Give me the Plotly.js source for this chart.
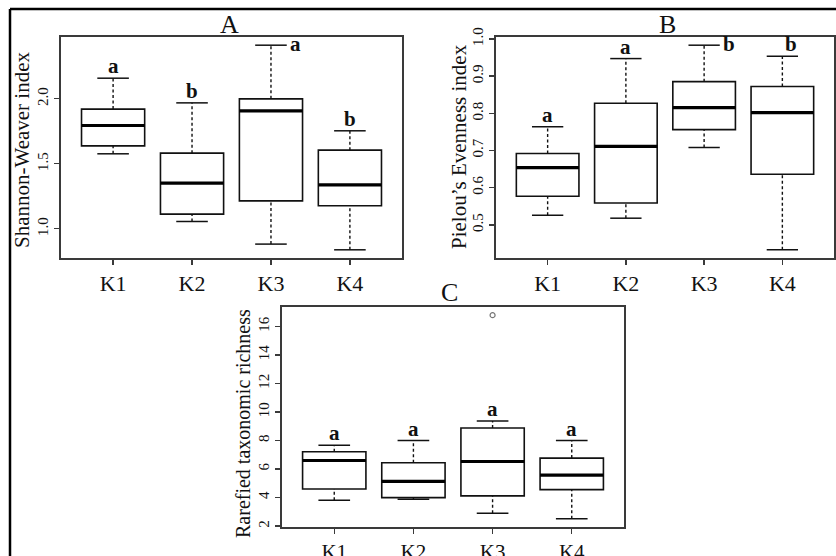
<!DOCTYPE html>
<html>
<head>
<meta charset="utf-8">
<script src="https://cdn.plot.ly/plotly-3.0.1.min.js"></script>
<style>
  html, body { margin: 0; padding: 0; background: #fff; }
  #chart { width: 836px; height: 556px; }
</style>
</head>
<body>
<div id="chart"></div>
<script>
// ---------- DATA ----------
const groups = ['K1', 'K2', 'K3', 'K4'];

// Panel A: Shannon-Weaver index
const shLow  = [1.577, 1.056, 0.882, 0.838];
const shQ1   = [1.638, 1.113, 1.215, 1.177];
const shMed  = [1.795, 1.352, 1.908, 1.338];
const shQ3   = [1.921, 1.582, 2.000, 1.605];
const shHigh = [2.159, 1.969, 2.413, 1.754];
const shLetters = ['a', 'b', 'a', 'b'];
const shTicks = [1.0, 1.5, 2.0];
const shTickText = ['1.0', '1.5', '2.0'];

// Panel B: Pielou's Evenness index
const evLow  = [0.526, 0.518, 0.708, 0.433];
const evQ1   = [0.577, 0.559, 0.756, 0.636];
const evMed  = [0.654, 0.711, 0.815, 0.802];
const evQ3   = [0.692, 0.827, 0.885, 0.872];
const evHigh = [0.764, 0.947, 0.983, 0.953];
const evLetters = ['a', 'a', 'b', 'b'];
const evTicks = [0.5, 0.6, 0.7, 0.8, 0.9, 1.0];
const evTickText = ['0.5', '0.6', '0.7', '0.8', '0.9', '1.0'];

// Panel C: Rarefied taxonomic richness
const rrLow  = [3.81, 3.88, 2.91, 2.51];
const rrQ1   = [4.60, 4.00, 4.12, 4.56];
const rrMed  = [6.60, 5.14, 6.53, 5.58];
const rrQ3   = [7.21, 6.44, 8.88, 6.77];
const rrHigh = [7.67, 8.00, 9.37, 8.00];
const rrOutGroup = ['K3'];
const rrOutVal = [16.79];
const rrLetters = ['a', 'a', 'a', 'a'];
const rrTicks = [2, 4, 6, 8, 10, 12, 14, 16];
const rrTickText = ['2', '4', '6', '8', '10', '12', '14', '16'];

// ---------- DRAWING ----------
const pos = groups.map((g, i) => i + 1);
const SERIF = '"Liberation Serif", "Times New Roman", serif';
const BOXW = 0.8, CAPW = 0.4;

function rRange(lo, hi) { const d = (hi - lo) * 0.04; return [lo - d, hi + d]; }

const traces = [];
function addPanel(n, low, q1, med, q3, high, outG, outV) {
  const xa = n === 1 ? 'x' : 'x' + n, ya = n === 1 ? 'y' : 'y' + n;
  const common = { xaxis: xa, yaxis: ya, hoverinfo: 'skip', showlegend: false };
  // whiskers (dashed)
  const wx = [], wy = [];
  pos.forEach((p, i) => { wx.push(p, p, null, p, p, null); wy.push(q3[i], high[i], null, low[i], q1[i], null); });
  traces.push(Object.assign({ type: 'scatter', mode: 'lines', x: wx, y: wy,
    line: { color: '#111', width: 1.4, dash: '3px,2.5px' } }, common));
  // caps
  const cx = [], cy = [];
  pos.forEach((p, i) => {
    cx.push(p - CAPW / 2, p + CAPW / 2, null, p - CAPW / 2, p + CAPW / 2, null);
    cy.push(high[i], high[i], null, low[i], low[i], null);
  });
  traces.push(Object.assign({ type: 'scatter', mode: 'lines', x: cx, y: cy,
    line: { color: '#111', width: 1.5 } }, common));
  // boxes
  traces.push(Object.assign({ type: 'box', x: pos, q1: q1, median: med, q3: q3,
    lowerfence: q1, upperfence: q3, width: BOXW, whiskerwidth: 0, boxpoints: false,
    fillcolor: 'white', line: { color: '#111', width: 1.6 } }, common));
  // medians (thick)
  const mx = [], my = [];
  pos.forEach((p, i) => { mx.push(p - BOXW / 2, p + BOXW / 2, null); my.push(med[i], med[i], null); });
  traces.push(Object.assign({ type: 'scatter', mode: 'lines', x: mx, y: my,
    line: { color: '#000', width: 3.2 } }, common));
  if (outG && outG.length) {
    traces.push(Object.assign({ type: 'scatter', mode: 'markers',
      x: outG.map(g => groups.indexOf(g) + 1), y: outV,
      marker: { symbol: 'circle-open', size: 5, color: '#777', line: { width: 1.2, color: '#777' } } }, common));
  }
}
addPanel(1, shLow, shQ1, shMed, shQ3, shHigh);
addPanel(2, evLow, evQ1, evMed, evQ3, evHigh);
addPanel(3, rrLow, rrQ1, rrMed, rrQ3, rrHigh, rrOutGroup, rrOutVal);

const allMax = (a, b) => Math.max(...a, ...b);
const allMin = (a, b) => Math.min(...a, ...b);
const xRange = rRange(0.5, groups.length + 0.5);

function xAxis(domain, anchor, fs) {
  return { domain: domain, anchor: anchor, range: xRange, tickmode: 'array', tickvals: pos, ticktext: groups,
    showline: true, mirror: true, linecolor: '#3a3a3a', linewidth: 1.8, showgrid: false, zeroline: false,
    ticks: 'outside', ticklen: 5, tickwidth: 1.3, tickcolor: '#3a3a3a',
    tickfont: { family: SERIF, size: fs, color: '#111' }, fixedrange: true };
}
function yAxis(domain, anchor, range, tv, tt) {
  return { domain: domain, anchor: anchor, range: range, tickmode: 'array', tickvals: tv, ticktext: tt,
    showline: true, mirror: true, linecolor: '#3a3a3a', linewidth: 1.8, showgrid: false, zeroline: false,
    ticks: 'outside', ticklen: 5, tickwidth: 1.3, tickcolor: '#3a3a3a', tickangle: -90,
    tickfont: { family: SERIF, size: 15, color: '#111' }, fixedrange: true };
}
const W = 836, H = 556;
const px = v => v / W, py = v => 1 - v / H;

const annotations = [];
function letters(n, high, lets, place) {
  const xa = n === 1 ? 'x' : 'x' + n, ya = n === 1 ? 'y' : 'y' + n;
  lets.forEach((t, i) => {
    const pl = place[i] || {};
    const a = { xref: xa, yref: ya, x: pos[i], y: high[i], text: t, showarrow: false,
      font: { family: SERIF, size: 21, color: '#111', weight: 'bold' },
      xanchor: 'center', yanchor: 'bottom', yshift: -2, xshift: 0 };
    if (pl.side === 'right') { a.x = pos[i] + CAPW / 2; a.xanchor = 'left'; a.yanchor = 'middle'; a.yshift = 1; a.xshift = 1; }
    if (pl.dx) a.xshift = pl.dx;
    annotations.push(a);
  });
}
letters(1, shHigh, shLetters, [{}, {}, { side: 'right' }, {}]);
letters(2, evHigh, evLetters, [{}, {}, { side: 'right' }, { dx: 9 }]);
letters(3, rrHigh, rrLetters, [{}, {}, {}, {}]);

function txt(x, y, t, size, angle) {
  annotations.push({ xref: 'paper', yref: 'paper', x: px(x), y: py(y), text: t, showarrow: false,
    xanchor: 'center', yanchor: 'middle', textangle: angle || 0,
    font: { family: SERIF, size: size, color: '#111' } });
}
// panel titles
txt(229, 25, 'A', 26);
txt(667, 25, 'B', 26);
txt(449, 292, 'C', 26);
// axis titles
txt(22, 150, 'Shannon-Weaver index', 21, -90);
txt(459, 146, 'Pielou\u2019s Evenness index', 21, -90);
txt(243, 424, 'Rarefied taxonomic richness', 20, -90);

const layout = {
  width: W, height: H, margin: { l: 0, r: 0, t: 0, b: 0 },
  paper_bgcolor: 'white', plot_bgcolor: 'white', showlegend: false,
  xaxis: xAxis([px(61), px(402)], 'y', 22),
  yaxis: yAxis([py(258), py(37)], 'x', rRange(allMin(shLow, shLow), allMax(shHigh, shHigh)), shTicks, shTickText),
  xaxis2: xAxis([px(496), px(834)], 'y2', 22),
  yaxis2: yAxis([py(258), py(37)], 'x2', rRange(allMin(evLow, evLow), allMax(evHigh, evHigh)), evTicks, evTickText),
  xaxis3: xAxis([px(282), px(624)], 'y3', 21),
  yaxis3: yAxis([py(527), py(307)], 'x3', rRange(allMin(rrLow, rrOutVal), allMax(rrHigh, rrOutVal)), rrTicks, rrTickText),
  annotations: annotations,
  shapes: [
    { type: 'line', xref: 'paper', yref: 'paper', x0: px(10), x1: px(10), y0: 0, y1: py(9), line: { color: '#000', width: 2.5 } },
    { type: 'line', xref: 'paper', yref: 'paper', x0: px(10), x1: 1, y0: py(9), y1: py(9), line: { color: '#000', width: 2.5 } }
  ]
};
Plotly.newPlot('chart', traces, layout, { staticPlot: true, displayModeBar: false });
</script>
</body>
</html>
